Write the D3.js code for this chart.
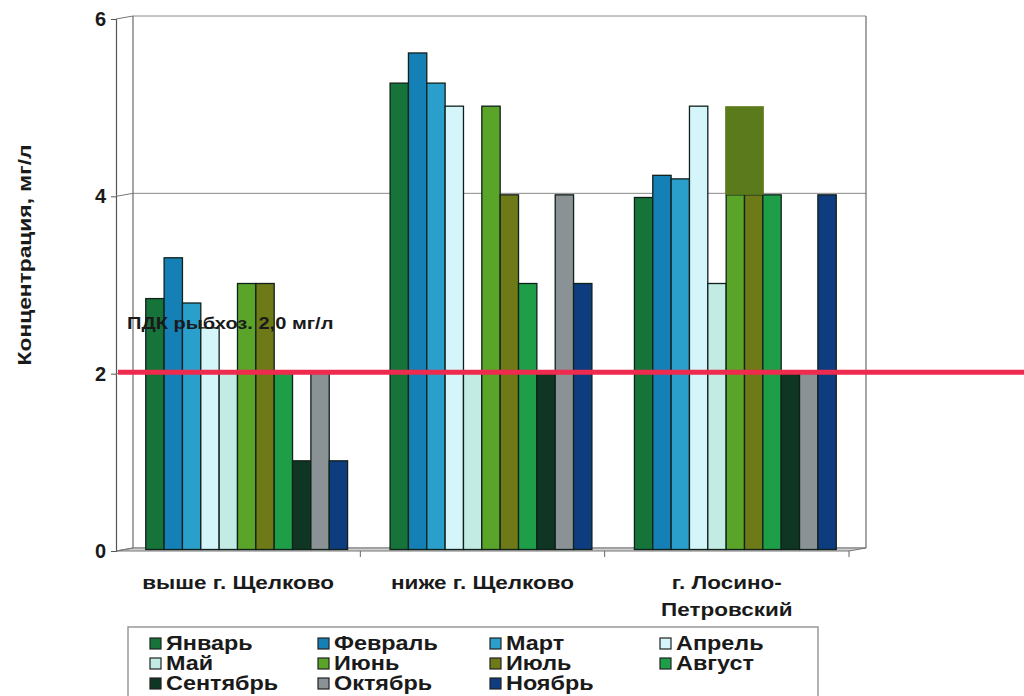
<!DOCTYPE html>
<html>
<head>
<meta charset="utf-8">
<script src="https://cdn.jsdelivr.net/npm/d3@7"></script>
<style>
  html, body { margin: 0; padding: 0; background: #fff; }
  svg { display: block; font-family: "Liberation Sans", Arial, sans-serif; }
</style>
</head>
<body>
<svg id="chart" width="1024" height="696"></svg>
<script>
// Sampling sites along the river
const sites = ["выше г. Щелково", "ниже г. Щелково", "г. Лосино-Петровский"];
const siteLines = [["выше г. Щелково"], ["ниже г. Щелково"], ["г. Лосино-", "Петровский"]];

// Months (series)
const months = ["Январь", "Февраль", "Март", "Апрель", "Май", "Июнь",
                "Июль", "Август", "Сентябрь", "Октябрь", "Ноябрь"];
const monthColors = ["#16733a", "#1580b5", "#2a9fcc", "#d4f5fa", "#c2ebe4", "#5aa42a",
                     "#6e7a18", "#1f9e48", "#0e3622", "#8a9296", "#0d3d7e"];

// Concentration, mg/l, by month for each site
const aboveShchelkovo = [2.83, 3.29, 2.78, 2.5, 2.0, 3.0, 3.0, 2.0, 1.0, 2.0, 1.0];
const belowShchelkovo = [5.26, 5.6, 5.26, 5.0, 2.0, 5.0, 4.0, 3.0, 2.0, 4.0, 3.0];
const losinoPetrovsky = [3.97, 4.22, 4.18, 5.0, 3.0, 4.0, 4.0, 4.0, 2.0, 2.0, 4.0];

// Y axis ticks
const yTicks = [0, 2, 4, 6];

// Fishery MPC reference level
const mpcValue = 2.0;
const mpcLabel = "ПДК рыбхоз. 2,0 мг/л";

// Solid overlay block on the Losino-Petrovsky group (June–July, 4 to 5 mg/l)
const overlayBlock = { site: "г. Лосино-Петровский", from: "Июнь", to: "Июль", low: 4, high: 5, color: "#5b7a1c" };

const siteValues = [aboveShchelkovo, belowShchelkovo, losinoPetrovsky];
const table = [];
sites.forEach((s, i) => months.forEach((m, j) => table.push({ site: s, month: m, value: siteValues[i][j] })));

const svg = d3.select("#chart");

// Pseudo-3D geometry: back wall is offset from front plane
const depthX = 17, depthY = -3;
const frontLeft = 116, frontRight = 849;
const yFront = d3.scaleLinear().domain([0, 6]).range([551, 19]);
const yBack = d3.scaleLinear().domain([0, 6]).range([551 + depthY, 19 + depthY]);
const yBar = d3.scaleLinear().domain([0, 6]).range([551 + depthY / 2, 19 + depthY / 2]);

const x0 = d3.scaleBand().domain(sites).range([frontLeft, frontRight]);
const groupW = x0.bandwidth() * 0.826;
const x1 = d3.scaleBand().domain(months)
  .range([(x0.bandwidth() - groupW) / 2, (x0.bandwidth() + groupW) / 2]);
const color = d3.scaleOrdinal().domain(months).range(monthColors);

const wallL = frontLeft + depthX, wallR = frontRight + depthX;

// Back wall grid lines
svg.append("g").selectAll("line").data(yTicks).join("line")
  .attr("x1", wallL).attr("x2", wallR)
  .attr("y1", d => yBack(d)).attr("y2", d => yBack(d))
  .attr("stroke", "#8a8a8a").attr("stroke-width", 1);

// Wall edges
svg.append("line").attr("x1", wallL).attr("x2", wallL)
  .attr("y1", yBack(6)).attr("y2", yBack(0)).attr("stroke", "#6a6a6a").attr("stroke-width", 1.2);
svg.append("line").attr("x1", wallR).attr("x2", wallR)
  .attr("y1", yBack(6)).attr("y2", yBack(0)).attr("stroke", "#6a6a6a").attr("stroke-width", 1.2);

// Floor
svg.append("polygon")
  .attr("points", [[frontLeft, yFront(0)], [frontRight, yFront(0)], [wallR, yBack(0)], [wallL, yBack(0)]].join(" "))
  .attr("fill", "#cfcfcf").attr("stroke", "#777").attr("stroke-width", 1);

// Bars
const groups = svg.append("g").selectAll("g").data(sites).join("g")
  .attr("transform", d => `translate(${x0(d) + depthX / 2},0)`);
groups.selectAll("rect").data(s => table.filter(r => r.site === s)).join("rect")
  .attr("x", d => x1(d.month))
  .attr("width", x1.bandwidth())
  .attr("y", d => yBar(d.value))
  .attr("height", d => yBar(0) - yBar(d.value))
  .attr("fill", d => color(d.month))
  .attr("stroke", "#10201a").attr("stroke-width", 1.3);

// Overlay block
svg.append("rect")
  .attr("x", x0(overlayBlock.site) + depthX / 2 + x1(overlayBlock.from) - 1)
  .attr("width", x1(overlayBlock.to) + x1.bandwidth() - x1(overlayBlock.from) + 2)
  .attr("y", yBar(overlayBlock.high))
  .attr("height", yBar(overlayBlock.low) - yBar(overlayBlock.high))
  .attr("fill", overlayBlock.color);

// Front axis with ticks
const axis = svg.append("g").attr("transform", `translate(${frontLeft},0)`)
  .call(d3.axisLeft(yFront).tickValues(yTicks).tickFormat(d3.format("d")).tickSize(5).tickPadding(5));
axis.select(".domain").attr("stroke", "#555").attr("stroke-width", 1.2);
axis.selectAll(".tick line").attr("stroke", "#555");
axis.selectAll(".tick text")
  .attr("font-size", 20).attr("font-weight", "bold").attr("fill", "#1a1a1a")
  .attr("font-family", "Liberation Sans, Arial, sans-serif");

// Connectors from front axis to back wall
svg.append("g").selectAll("line").data(yTicks).join("line")
  .attr("x1", frontLeft).attr("x2", wallL)
  .attr("y1", d => yFront(d)).attr("y2", d => yBack(d))
  .attr("stroke", "#777").attr("stroke-width", 1);

// Category tick marks under the floor
svg.append("g").selectAll("line").data(sites.map((s, i) => i + 1)).join("line")
  .attr("x1", i => frontLeft + i * x0.step()).attr("x2", i => frontLeft + i * x0.step())
  .attr("y1", yFront(0)).attr("y2", yFront(0) + 6)
  .attr("stroke", "#666");

// MPC line
svg.append("line")
  .attr("x1", frontLeft + 2).attr("x2", 1024)
  .attr("y1", yBar(mpcValue)).attr("y2", yBar(mpcValue))
  .attr("stroke", "#ee2a4e").attr("stroke-width", 5);

// Horizontally stretched text helper
function stretchedText(sel, x, y, txt, size, sx, anchor) {
  return sel.append("text")
    .attr("transform", `translate(${x},${y}) scale(${sx},1)`)
    .attr("text-anchor", anchor || "start")
    .attr("font-size", size).attr("font-weight", "bold").attr("fill", "#1a1a1a")
    .text(txt);
}

stretchedText(svg, 127, 329, mpcLabel, 17, 1.18, "start");

// Category labels
siteLines.forEach((lines, i) => {
  const cx = x0(sites[i]) + x0.bandwidth() / 2;
  lines.forEach((ln, k) => stretchedText(svg, cx, 589 + k * 27, ln, 18, 1.25, "middle"));
});

// Y axis title
svg.append("text")
  .attr("transform", "translate(31,255) rotate(-90) scale(1.2,1)")
  .attr("text-anchor", "middle")
  .attr("font-size", 19).attr("font-weight", "bold").attr("fill", "#1a1a1a")
  .text("Концентрация, мг/л");

// Legend
const legend = svg.append("g");
legend.append("rect").attr("x", 128).attr("y", 627).attr("width", 690).attr("height", 80)
  .attr("fill", "#fff").attr("stroke", "#999").attr("stroke-width", 1.5);
const colX = [150, 318, 490, 660];
months.forEach((m, i) => {
  const c = i % 4, r = Math.floor(i / 4);
  const cy = 643 + r * 20;
  legend.append("rect").attr("x", colX[c]).attr("y", cy - 5).attr("width", 11).attr("height", 11)
    .attr("fill", color(m)).attr("stroke", "#222").attr("stroke-width", 1.2);
  stretchedText(legend, colX[c] + 16, cy + 7, m, 19.5, 1.2, "start");
});
</script>
</body>
</html>
